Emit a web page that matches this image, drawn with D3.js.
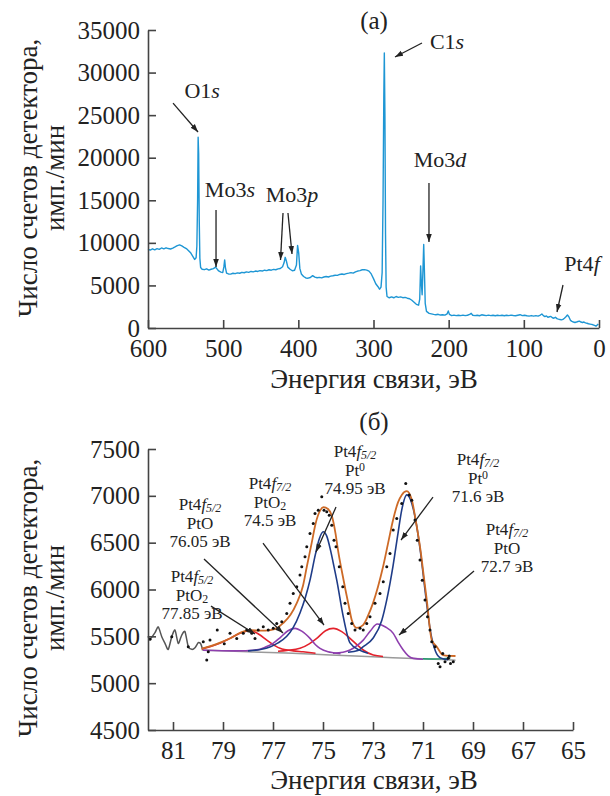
<!DOCTYPE html>
<html>
<head>
<meta charset="utf-8">
<script src="https://cdn.jsdelivr.net/npm/d3@7"></script>
<style>
  body { margin: 0; background: #fff; }
  svg, text, tspan { font-family: "Liberation Serif", "Tinos", "Times New Roman", "DejaVu Serif", "Noto Serif", serif; }
  text { fill: #222; }
</style>
</head>
<body>
<svg id="chart" width="610" height="796"></svg>
<script>
// ---- data: survey spectrum (a), [binding energy eV, counts/min]
const survey = [
  [600,9250],[597,9150],[594,9300],[591,9180],[588,9320],[585,9230],[582,9400],[579,9300],[576,9420],[573,9330],
  [570,9280],[567,9380],[564,9520],[561,9680],[558,9760],[555,9640],[552,9480],[549,9330],[546,9080],[543,8800],
  [540,8350],[538,8050],[536,8250],[535,9600],[534,15000],[533.3,22400],[532.6,20500],[531.8,12500],[531,8200],[530,7100],
  [528,6900],[525,6850],[522,6950],[519,6800],[516,6900],[513,6980],[510,7150],[508,6920],[506,6700],[503,6560],
  [500.5,6520],[499,7200],[498,8000],[497,7100],[495.5,6450],[493,6350],[490,6330],[487,6430],[484,6380],[481,6480],
  [478,6430],[475,6540],[472,6490],[469,6590],[466,6540],[463,6640],[460,6590],[457,6690],[454,6640],[451,6740],
  [448,6690],[445,6790],[442,6740],[439,6840],[436,6790],[433,6880],[430,6840],[427,6940],[424,6990],[421,7200],
  [419,7650],[417.5,8300],[416,7900],[414,7150],[411,6900],[408,6720],[405,6780],[402.5,7400],[401,9700],[399.5,8800],
  [398,7000],[396,6350],[393,6050],[390,5880],[387,5850],[384,5930],[381,6150],[378,5970],[375,5900],[372,5950],
  [369,5890],[366,5990],[363,6050],[360,5990],[357,6090],[354,6140],[351,6200],[348,6180],[345,6290],[342,6340],
  [339,6290],[336,6390],[333,6440],[330,6500],[327,6440],[324,6590],[321,6690],[318,6740],[315,6840],[312,6860],
  [309,6800],[306,6680],[303,6350],[300,5800],[297,5200],[294,4850],[292,4550],[290,4800],[288.5,6500],[287.3,15000],
  [286.3,27000],[285.6,32300],[284.8,25000],[284,11000],[283.2,4800],[282,3700],[279,3550],[276,3650],[273,3550],[270,3700],
  [267,3600],[264,3650],[261,3560],[258,3600],[255,3500],[252,3440],[249,3260],[246,3020],[243,2780],[240,2680],
  [238.5,3400],[237.3,7300],[236.3,5200],[235.3,3900],[234.2,6800],[233.2,9800],[232.2,6500],[231.2,2900],[229.5,1950],[226,1720],
  [223,1660],[220,1600],[217,1560],[214,1610],[211,1520],[208,1560],[205,1510],[202,1660],[200.5,2000],[199,1600],
  [196,1460],[193,1510],[190,1450],[187,1500],[184,1450],[181,1510],[178,1450],[175,1500],[172,1600],[170,1720],
  [168,1500],[165,1450],[162,1500],[159,1440],[156,1550],[153,1500],[150,1450],[147,1510],[144,1450],[141,1500],
  [138,1440],[135,1500],[132,1450],[129,1500],[126,1440],[123,1500],[120,1450],[117,1510],[114,1470],[111,1440],
  [108,1500],[105,1560],[102,1450],[99,1500],[96,1440],[93,1400],[90,1460],[87,1390],[84,1450],[81,1400],
  [78,1520],[76,1650],[74,1450],[72,1340],[70,1420],[68,1250],[66,1320],[64,1360],[62,1200],[60,1150],
  [58,1260],[56,1100],[54,1040],[52,1000],[50,950],[48,1010],[46,1150],[44,1320],[42,1520],[40,1300],
  [38,900],[36,780],[34,700],[32,650],[30,700],[28,760],[26,800],[24,700],[22,650],[20,700],
  [18,600],[16,560],[14,500],[12,460],[10,420],[8,380],[6,300],[4,220],[2,380],[1,480]
];
const surveyTicksX = [600, 500, 400, 300, 200, 100, 0];
const surveyTicksY = [0, 5000, 10000, 15000, 20000, 25000, 30000, 35000];

// ---- data: Pt4f region (б)
const rawTrace = [
  [82,5500],[81.92,5470],[81.72,5540],[81.59,5600],[81.45,5496],[81.32,5425],[81.19,5361],[81.05,5496],[80.92,5567],
  [80.79,5425],[80.65,5514],[80.52,5550],[80.39,5389],[80.25,5361],[80.12,5378],[79.99,5432],[79.89,5420],[79.81,5354]
];
const measured = [
  [81.92,5470],[81.05,5496],[80.39,5389],[79.79,5442],[79.65,5247],[79.59,5336],[79.52,5460],[79.23,5567],[78.95,5420],
  [78.72,5532],[78.45,5478],[78.19,5532],[78.05,5567],[77.85,5532],[77.72,5478],[77.59,5567],[77.39,5603],[77.19,5567],
  [76.99,5585],[76.85,5638],[76.65,5656],[76.45,5745],[76.32,5852],[76.19,5958],[76.05,6029],[75.92,6154],[75.85,6243],
  [75.72,6350],[75.65,6456],[75.52,6598],[75.39,6705],[75.32,6812],[75.19,6847],[75.05,6990],[74.96,6847],[74.85,6829],
  [74.75,6794],[74.65,6687],[74.56,6527],[74.48,6456],[74.35,6243],[74.21,6029],[74.12,5852],[73.99,5745],[73.85,5638],
  [73.72,5567],[73.52,5585],[73.39,5567],[73.25,5638],[73.12,5709],[72.92,5852],[72.72,5958],[72.59,6083],[72.45,6243],
  [72.32,6385],[72.19,6634],[72.05,6758],[71.85,6918],[71.69,7132],[71.55,7008],[71.45,6954],[71.32,6741],[71.23,6527],
  [71.12,6314],[71.03,6100],[70.92,5887],[70.82,5709],[70.72,5567],[70.65,5442],[70.52,5389],[70.39,5211],[70.32,5176],
  [70.21,5318],[70.12,5229],[69.99,5265],[69.95,5290],[69.9,5211],[69.79,5229]
];
const envelope = [
  [79.85,5370],[79.5,5395],[79.1,5435],[78.7,5480],[78.3,5540],[77.9,5565],[77.5,5560],[77.1,5567],[76.8,5595],
  [76.6,5640],[76.3,5730],[76.05,5855],[75.8,6040],[75.65,6240],[75.45,6500],[75.3,6700],[75.1,6850],[74.98,6880],
  [74.8,6860],[74.65,6790],[74.5,6600],[74.4,6420],[74.25,6200],[74.1,5995],[73.95,5800],[73.85,5675],[73.65,5590],
  [73.4,5620],[73.2,5720],[73.0,5855],[72.8,6030],[72.6,6240],[72.4,6490],[72.2,6740],[72.0,6930],[71.85,7010],
  [71.65,7050],[71.45,6960],[71.3,6750],[71.1,6420],[70.95,6100],[70.85,5890],[70.65,5460],[70.45,5389],[70.2,5300],
  [69.95,5292],[69.7,5290]
];
const background = [[79.85,5355],[78,5335],[76,5318],[74.7,5300],[73,5282],[71.1,5260],[70.2,5252],[69.7,5245]];
const backgroundTail = [[71.0,5262],[70.6,5258],[70.2,5262],[69.9,5270]];
const pt0Doublet = [
  [[78.0,5345],[77.5,5360],[77.1,5390],[76.8,5430],[76.45,5500],[76.2,5590],[75.92,5750],[75.7,5920],[75.52,6100],
   [75.3,6380],[75.15,6540],[74.99,6616],[74.85,6570],[74.7,6420],[74.55,6230],[74.45,6100],[74.19,5710],[73.92,5430],
   [73.52,5350],[73.2,5320]],
  [[74.0,5330],[73.6,5350],[73.39,5390],[73.0,5480],[72.65,5670],[72.45,5890],[72.2,6250],[72.0,6600],[71.85,6850],
   [71.65,7010],[71.5,6960],[71.3,6750],[71.1,6400],[70.9,5950],[70.7,5550],[70.5,5340],[70.3,5270],[70.0,5250]]
];
const ptODoublet = [
  [[79.8,5352],[78.5,5345],[77.65,5355],[77.3,5385],[77.0,5425],[76.7,5490],[76.4,5560],[76.12,5585],[75.85,5555],
   [75.52,5478],[75.3,5410],[75.12,5372],[74.8,5335],[74.59,5325],[74.3,5315]],
  [[74.6,5320],[74.2,5330],[73.92,5354],[73.6,5410],[73.39,5460],[73.1,5560],[72.83,5631],[72.5,5600],[72.19,5532],
   [72.0,5440],[71.79,5354],[71.6,5295],[71.39,5265],[71.0,5255]]
];
const ptO2Doublet = [
  [[79.85,5365],[79.52,5390],[79.1,5430],[78.72,5478],[78.3,5535],[77.89,5560],[77.55,5520],[77.25,5460],[76.95,5405],
   [76.72,5372],[76.19,5345],[75.8,5335],[75.3,5320]],
  [[76.8,5340],[76.45,5350],[75.92,5372],[75.55,5420],[75.25,5478],[74.9,5560],[74.59,5585],[74.25,5550],[73.92,5478],
   [73.6,5400],[73.39,5354],[72.99,5300],[72.6,5285]]
];
const fitTicksX = [81, 79, 77, 75, 73, 71, 69, 67, 65];
const fitTicksY = [4500, 5000, 5500, 6000, 6500, 7000, 7500];

// ---- annotations (anchored in data units)
const surveyNotes = [
  { parts: [["O1"], ["s", "i"]], at: [528, 27000], from: [566.7, 26420], to: [533.5, 23020] },
  { parts: [["Mo3"], ["s", "i"]], at: [491, 15385], from: [[509.5, 13860, 509.5, 7160]] },
  { parts: [["Mo3"], ["p", "i"]], at: [408.4, 14800], from: [[420.4, 13505, 423.7, 7985], [413.8, 13505, 408.4, 8690]] },
  { parts: [["Mo3"], ["d", "i"]], at: [211.6, 18900], from: [[226.2, 17030, 226.2, 10100]] },
  { parts: [["C1"], ["s", "i"]], at: [202.2, 32770], from: [235.5, 33470], to: [271.4, 31830] },
  { parts: [["Pt4"], ["f", "i"]], at: [22.6, 6690], from: [47.9, 5050], to: [55.9, 1880] }
];
const fitNotes = [
  { lines: [[["Pt4"], ["f", "i"], ["5/2", "sub"]], [["Pt"], ["0", "sup"]], [["74.95 эВ"]]], at: [73.72, 7414], arrow: [74.48, 6880, 75.28, 6400] },
  { lines: [[["Pt4"], ["f", "i"], ["7/2", "sub"]], [["Pt"], ["0", "sup"]], [["71.6 эВ"]]], at: [68.8, 7328], arrow: [70.6, 6987, 71.88, 6528] },
  { lines: [[["Pt4"], ["f", "i"], ["7/2", "sub"]], [["PtO"], ["2", "sub2"]], [["74.5 эВ"]]], at: [77.12, 7072], arrow: [77.4, 6496, 74.96, 5620] },
  { lines: [[["Pt4"], ["f", "i"], ["5/2", "sub"]], [["PtO"]], [["76.05 эВ"]]], at: [79.92, 6848], arrow: [79.76, 6325, 76.6, 5535] },
  { lines: [[["Pt4"], ["f", "i"], ["7/2", "sub"]], [["PtO"]], [["72.7 эВ"]]], at: [67.64, 6581], arrow: [68.96, 6197, 71.96, 5514] },
  { lines: [[["Pt4"], ["f", "i"], ["5/2", "sub"]], [["PtO"], ["2", "sub2"]], [["77.85 эВ"]]], at: [80.24, 6080], arrow: [79.48, 5823, 77.72, 5525] }
];

const SERIF = '"Liberation Serif", "Tinos", "Times New Roman", "DejaVu Serif", serif';
const svg = d3.select("#chart").attr("font-family", SERIF);
const AXIS = "#444";

svg.append("defs").append("marker")
  .attr("id", "ah").attr("viewBox", "0 0 10 10").attr("refX", 10).attr("refY", 5)
  .attr("markerWidth", 8).attr("markerHeight", 8).attr("markerUnits", "userSpaceOnUse").attr("orient", "auto")
  .append("path").attr("d", "M0,1.5L10,5L0,8.5Z").attr("fill", "#222");

function richText(t, parts) {
  parts.forEach(([s, kind]) => {
    const ts = t.append("tspan").text(s);
    if (kind === "i") ts.attr("font-style", "italic");
    if (kind === "sub") ts.attr("font-style", "italic").attr("font-size", "0.7em").attr("dy", "0.2em");
    if (kind === "sub2") ts.attr("font-size", "0.7em").attr("dy", "0.2em");
    if (kind === "sup") ts.attr("font-size", "0.7em").attr("dy", "-0.4em");
  });
}

function styleAxis(g) {
  g.attr("font-family", SERIF);
  g.select(".domain").attr("stroke", AXIS).attr("stroke-width", 1.6);
  g.selectAll(".tick line").attr("stroke", AXIS).attr("stroke-width", 1.6);
  g.selectAll(".tick text").attr("font-family", SERIF).attr("font-size", 25).attr("fill", "#222");
}

function yTitle(cy) {
  [["Число счетов детектора,", 37], ["имп./мин", 64]].forEach(([s, x]) => {
    svg.append("text").attr("transform", `translate(${x},${cy}) rotate(-90)`)
      .attr("text-anchor", "middle").attr("font-size", 27).text(s);
  });
}

function arrow(x1, y1, x2, y2) {
  svg.append("line").attr("x1", x1).attr("y1", y1).attr("x2", x2).attr("y2", y2)
    .attr("stroke", "#222").attr("stroke-width", 1.3).attr("marker-end", "url(#ah)");
}

// ================= panel (a) =================
const xA = d3.scaleLinear().domain([600, 0]).range([148, 599]);
const yA = d3.scaleLinear().domain([0, 35000]).range([328, 30]);

svg.append("path").datum(survey)
  .attr("fill", "none").attr("stroke", "#1e96d4").attr("stroke-width", 1.4).attr("stroke-linejoin", "round")
  .attr("d", d3.line().x(d => xA(d[0])).y(d => yA(d[1])));

svg.append("g").attr("transform", `translate(0,${yA(0)})`)
  .call(d3.axisBottom(xA).tickValues(surveyTicksX).tickSizeInner(-8).tickSizeOuter(0).tickPadding(11).tickFormat(d3.format("d")))
  .call(styleAxis);
svg.append("g").attr("transform", `translate(${xA(600)},0)`)
  .call(d3.axisLeft(yA).tickValues(surveyTicksY).tickSizeInner(-8).tickSizeOuter(0).tickPadding(8).tickFormat(d3.format("d")))
  .call(styleAxis);

surveyNotes.forEach(n => {
  const t = svg.append("text").attr("x", xA(n.at[0])).attr("y", yA(n.at[1]))
    .attr("text-anchor", "middle").attr("font-size", 22);
  richText(t, n.parts);
  if (n.to) arrow(xA(n.from[0]), yA(n.from[1]), xA(n.to[0]), yA(n.to[1]));
  else n.from.forEach(a => arrow(xA(a[0]), yA(a[1]), xA(a[2]), yA(a[3])));
});

svg.append("text").attr("x", 374).attr("y", 29).attr("text-anchor", "middle").attr("font-size", 25).text("(а)");
svg.append("text").attr("x", 374).attr("y", 388).attr("text-anchor", "middle").attr("font-size", 27).text("Энергия связи, эВ");
yTitle(178);

// ================= panel (б) =================
const xB = d3.scaleLinear().domain([82, 65]).range([148, 573]);
const yB = d3.scaleLinear().domain([4500, 7500]).range([730, 449]);
const curve = d3.line().x(d => xB(d[0])).y(d => yB(d[1])).curve(d3.curveMonotoneX);
const plain = d3.line().x(d => xB(d[0])).y(d => yB(d[1])).curve(d3.curveCardinal.tension(0.3));

function drawCurve(data, color, w, gen) {
  svg.append("path").datum(data).attr("fill", "none").attr("stroke", color)
    .attr("stroke-width", w).attr("d", (gen || curve)(data));
}

drawCurve(rawTrace, "#555", 1.5, plain);
drawCurve(background, "#9a9a9a", 1.5);
drawCurve(backgroundTail, "#1f9a6e", 1.5);
ptO2Doublet.forEach(c => drawCurve(c, "#e3222c", 1.6));
ptODoublet.forEach(c => drawCurve(c, "#8e3fae", 1.6));
pt0Doublet.forEach(c => drawCurve(c, "#1f3c88", 1.6));
drawCurve(envelope, "#cd6a27", 1.8);

svg.append("g").selectAll("circle").data(measured).join("circle")
  .attr("cx", d => xB(d[0])).attr("cy", d => yB(d[1])).attr("r", 1.5).attr("fill", "#111");

svg.append("g").attr("transform", `translate(0,${yB(4500)})`)
  .call(d3.axisBottom(xB).tickValues(fitTicksX).tickSizeInner(-8).tickSizeOuter(0).tickPadding(11).tickFormat(d3.format("d")))
  .call(styleAxis);
svg.append("g").attr("transform", `translate(${xB(82)},0)`)
  .call(d3.axisLeft(yB).tickValues(fitTicksY).tickSizeInner(-8).tickSizeOuter(0).tickPadding(8).tickFormat(d3.format("d")))
  .call(styleAxis);

fitNotes.forEach(n => {
  n.lines.forEach((ln, i) => {
    const t = svg.append("text").attr("x", xB(n.at[0])).attr("y", yB(n.at[1]) + i * 18.5)
      .attr("text-anchor", "middle").attr("font-size", 17);
    richText(t, ln);
  });
  const a = n.arrow;
  arrow(xB(a[0]), yB(a[1]), xB(a[2]), yB(a[3]));
});

svg.append("text").attr("x", 374).attr("y", 430).attr("text-anchor", "middle").attr("font-size", 25).text("(б)");
svg.append("text").attr("x", 374).attr("y", 789).attr("text-anchor", "middle").attr("font-size", 27).text("Энергия связи, эВ");
yTitle(598);
</script>
</body>
</html>
